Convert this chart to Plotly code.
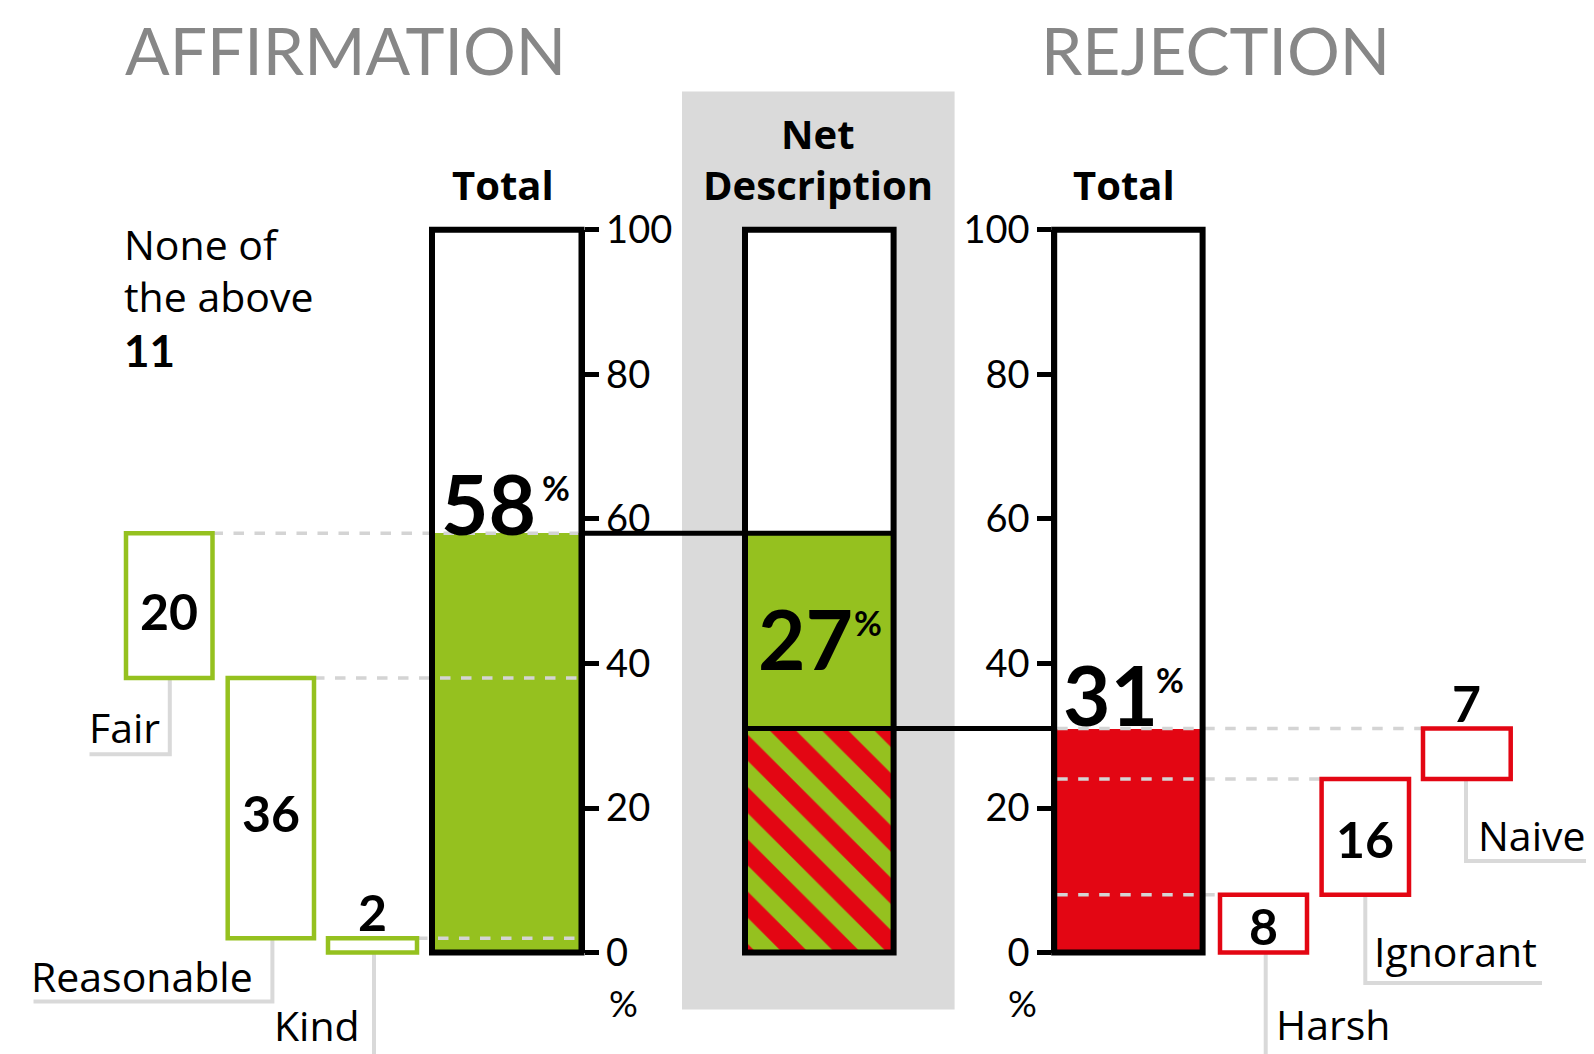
import plotly.graph_objects as go

# ---------------- data ----------------
aff_labels = ["Fair", "Reasonable", "Kind"]
aff_values = [20, 36, 2]
rej_labels = ["Harsh", "Ignorant", "Naive"]
rej_values = [8, 16, 7]
aff_total = 58
rej_total = 31
net_value = 27
none_value = 11
tick_values = [0, 20, 40, 60, 80, 100]

# ---------------- layout constants (pixels, page coordinates) ----------------
W, H = 1594, 1054
OFF = 8  # page body margin
Y0PX, Y100PX = 952.6, 229.7
PXU = (Y0PX - Y100PX) / 100.0
Y0P = Y0PX - OFF
Y100P = Y100PX - OFF
YMIN = -(H - Y0P) / PXU
YMAX = Y0P / PXU

GREEN = "#95c11f"
RED = "#e30613"
GREY_T = "#878787"
LEAD = "#d9d9d9"
DASH = "#d4d4d4"
FONT = "Lato"
FONT2 = "Open Sans"


def yv(p):  # page pixel -> data value
    return (Y0PX - p) / PXU


def yp(p):  # page pixel -> paper
    return 1 - (p - OFF) / H


L_BOX = (432, 581.5)
N_BOX = (745, 893.6)
R_BOX = (1054.2, 1202.6)
aff_box_x = [(126, 212.5), (227.7, 314), (328, 417)]
rej_box_x = [(1220, 1307), (1321.6, 1409), (1423, 1510.7)]

fig = go.Figure()

# ---------- filled bars ----------
def bar(box, base, height, **marker):
    fig.add_trace(go.Bar(x=[(box[0] + box[1]) / 2], y=[height], base=[base],
                         width=[box[1] - box[0]], marker=marker, opacity=1,
                         showlegend=False, hoverinfo="skip"))

bar(L_BOX, 0, aff_total, color=GREEN, line=dict(width=0))
bar(N_BOX, rej_total, aff_total - rej_total, color=GREEN, line=dict(width=0))
bar(N_BOX, 0, rej_total, color=GREEN, line=dict(width=0),
    pattern=dict(shape="\\", fgcolor=RED, bgcolor=GREEN, fgopacity=1,
                 fillmode="replace", size=37, solidity=0.5))
bar(R_BOX, 0, rej_total, color=RED, line=dict(width=0))

shapes = []
# grey background
shapes.append(dict(type="rect", xref="x", yref="paper", x0=682, x1=954.6,
                   y0=yp(1009.5), y1=yp(91.5), fillcolor="#dadada",
                   line=dict(width=0), layer="below"))
# white inside of net box
shapes.append(dict(type="rect", xref="x", yref="y", x0=N_BOX[0], x1=N_BOX[1],
                   y0=0, y1=100, fillcolor="white", line=dict(width=0), layer="below"))

# cumulative positions (waterfall)
aff_tops = []
acc = aff_total
for v in aff_values:
    aff_tops.append((acc - v, acc))
    acc -= v
rej_tops = []
acc = 0
for v in rej_values:
    rej_tops.append((acc, acc + v))
    acc += v

# dashed connectors
for (lo, hi), (bx0, bx1) in zip(aff_tops, aff_box_x):
    shapes.append(dict(type="line", xref="x", yref="y", x0=bx1, x1=L_BOX[1] - 3,
                       y0=hi, y1=hi, line=dict(color=DASH, width=3.5, dash="dash"),
                       layer="above"))
for (lo, hi), (bx0, bx1) in zip(rej_tops, rej_box_x):
    shapes.append(dict(type="line", xref="x", yref="y", x0=R_BOX[0] + 3, x1=bx0,
                       y0=hi, y1=hi, line=dict(color=DASH, width=3.5, dash="dash"),
                       layer="above"))

# black connecting lines
shapes.append(dict(type="line", xref="x", yref="y", x0=L_BOX[1], x1=N_BOX[1],
                   y0=aff_total, y1=aff_total, line=dict(color="black", width=5), layer="above"))
shapes.append(dict(type="line", xref="x", yref="y", x0=N_BOX[0], x1=R_BOX[0],
                   y0=rej_total, y1=rej_total, line=dict(color="black", width=5), layer="above"))

# big outline boxes
for bx in (L_BOX, N_BOX, R_BOX):
    shapes.append(dict(type="rect", xref="x", yref="y", x0=bx[0], x1=bx[1],
                       y0=0, y1=100, line=dict(color="black", width=6),
                       fillcolor="rgba(0,0,0,0)", layer="above"))

# leader lines
def leader(pts):
    path = "M " + " L ".join(f"{x},{yv(p)}" for x, p in pts)
    shapes.append(dict(type="path", xref="x", yref="y", path=path,
                       line=dict(color=LEAD, width=4), layer="above"))

aff_leads = [
    [(169.8, None), (169.8, 754.3), (89.5, 754.3)],
    [(272.4, None), (272.4, 1001.4), (33.5, 1001.4)],
    [(374, None), (374, 1070)],
]
for (lo, hi), (bx0, bx1), ld in zip(aff_tops, aff_box_x, aff_leads):
    ld[0] = (ld[0][0], Y0PX - lo * PXU)
    leader(ld)
    shapes.append(dict(type="rect", xref="x", yref="y", x0=bx0, x1=bx1, y0=lo, y1=hi,
                       line=dict(color=GREEN, width=4.5), fillcolor="white", layer="above"))

rej_leads = [
    [(1265.7, None), (1265.7, 1070)],
    [(1365.3, None), (1365.3, 983), (1542, 983)],
    [(1466, None), (1466, 861), (1600, 861)],
]
for (lo, hi), (bx0, bx1), ld in zip(rej_tops, rej_box_x, rej_leads):
    ld[0] = (ld[0][0], Y0PX - lo * PXU)
    leader(ld)
    shapes.append(dict(type="rect", xref="x", yref="y", x0=bx0, x1=bx1, y0=lo, y1=hi,
                       line=dict(color=RED, width=4.5), fillcolor="white", layer="above"))

# ---------- annotations ----------
ann = []


def txt(text, x, ypix, size, bold=False, color="black", xanchor="center", family=FONT):
    ann.append(dict(text=text, x=x, y=yp(ypix), xref="x", yref="paper",
                    xanchor=xanchor, yanchor="middle", showarrow=False,
                    font=dict(family=family, size=size, color=color,
                              weight=700 if bold else 400)))


txt("AFFIRMATION", 345.6, 49, 66, color=GREY_T)
txt("REJECTION", 1215.9, 49, 66, color=GREY_T)
txt("Total", 503, 184, 40, bold=True, family=FONT2)
txt("Total", 1124.4, 184, 40, bold=True, family=FONT2)
txt("Net", 818.4, 134, 40, bold=True, family=FONT2)
txt("Description", 818.4, 184, 40, bold=True, family=FONT2)
txt("None of", 122, 244, 41, xanchor="left", family=FONT2)
txt("the above", 122, 296, 41, xanchor="left", family=FONT2)
txt(str(none_value), 122, 350, 44, bold=True, xanchor="left")

# percentages
txt(str(aff_total), 488, 503, 82, bold=True)
txt("%", 556, 488, 34, bold=True)
txt(str(net_value), 805, 638, 82, bold=True)
txt("%", 868, 622, 34, bold=True)
txt(str(rej_total), 1110, 694, 82, bold=True)
txt("%", 1170, 679, 34, bold=True)

# small box numbers
for (lo, hi), (bx0, bx1), v in zip(aff_tops, aff_box_x, aff_values):
    cx = (bx0 + bx1) / 2
    if hi - lo >= 5:
        txt(str(v), cx, Y0PX - (lo + hi) / 2 * PXU + 5, 50, bold=True)
    else:
        txt(str(v), cx, Y0PX - hi * PXU - 26, 50, bold=True)
for (lo, hi), (bx0, bx1), v in zip(rej_tops, rej_box_x, rej_values):
    cx = (bx0 + bx1) / 2
    if hi - lo >= 8:
        txt(str(v), cx, Y0PX - (lo + hi) / 2 * PXU + 2, 50, bold=True)
    else:
        txt(str(v), cx, Y0PX - hi * PXU - 26, 50, bold=True)

# labels
txt("Fair", 87.4, 727, 41, xanchor="left", family=FONT2)
txt("Reasonable", 29, 976, 41, xanchor="left", family=FONT2)
txt("Kind", 272, 1025, 41, xanchor="left", family=FONT2)
txt("Harsh", 1274, 1024, 41, xanchor="left", family=FONT2)
txt("Ignorant", 1372, 951, 41, xanchor="left", family=FONT2)
txt("Naive", 1476, 835, 41, xanchor="left", family=FONT2)

# percent under axes
txt("%", 623, 1003, 36)
txt("%", 1022.7, 1003, 36)

# invisible traces to instantiate decorative axes
fig.add_trace(go.Scatter(x=[None], y=[None], xaxis="x", yaxis="y2", showlegend=False))
fig.add_trace(go.Scatter(x=[None], y=[None], xaxis="x", yaxis="y3", showlegend=False))

dom = [(H - Y0P) / H, (H - Y100P) / H]
axis_common = dict(domain=dom, range=[0, 100], anchor="free", showline=True,
                   linecolor="black", linewidth=6, ticks="outside", ticklen=14,
                   tickwidth=5, tickcolor="black", tickvals=tick_values,
                   ticktext=[str(t) for t in tick_values],
                   tickfont=dict(family=FONT, size=38, color="black"),
                   showgrid=False, zeroline=False, fixedrange=True, automargin=False)

fig.update_layout(
    width=W, height=H, margin=dict(l=0, r=0, t=0, b=0, pad=0, autoexpand=False),
    paper_bgcolor="white", plot_bgcolor="rgba(0,0,0,0)",
    barmode="overlay", bargap=0,
    xaxis=dict(range=[OFF, W + OFF], visible=False, fixedrange=True, automargin=False),
    yaxis=dict(range=[YMIN, YMAX], visible=False, fixedrange=True, automargin=False),
    yaxis2=dict(position=(L_BOX[1] - OFF) / W, side="right", **axis_common),
    yaxis3=dict(position=(R_BOX[0] - OFF) / W, side="left", **axis_common),
    shapes=shapes, annotations=ann, showlegend=False,
)

fig.write_html("out.html")
